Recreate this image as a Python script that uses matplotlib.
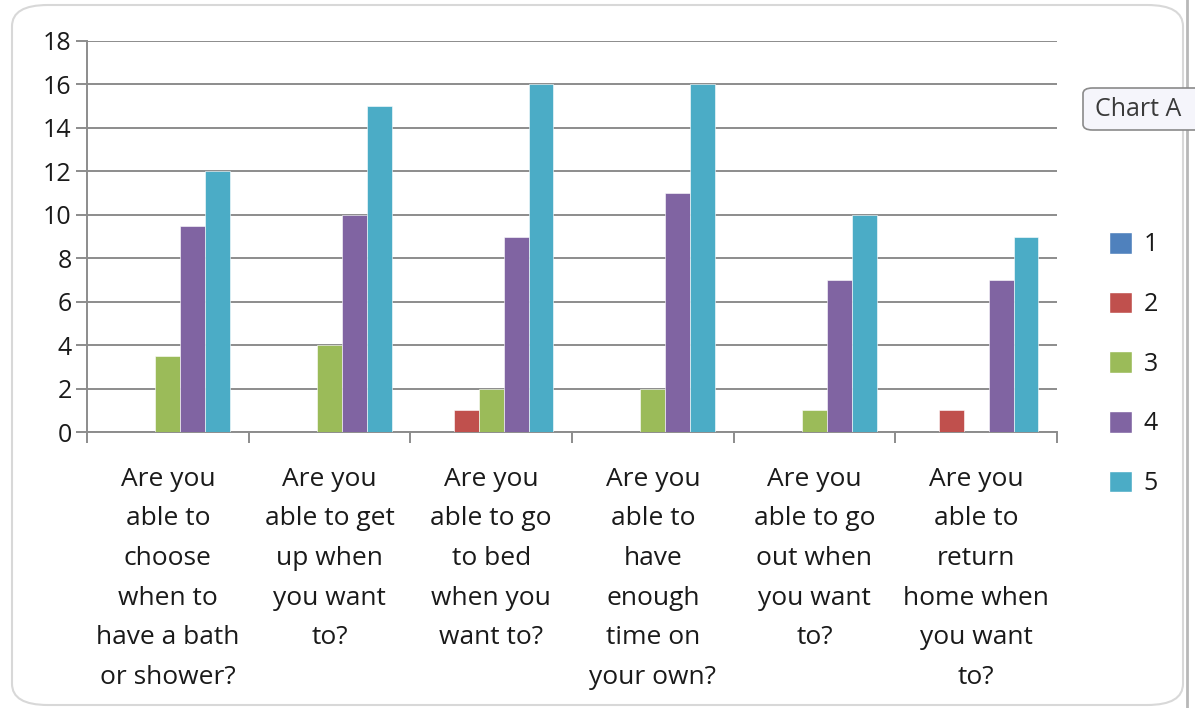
import matplotlib
matplotlib.use("Agg")
import matplotlib.pyplot as plt
import numpy as np
from matplotlib.patches import FancyBboxPatch, Patch
from matplotlib.lines import Line2D

categories = [
    "Are you\nable to\nchoose\nwhen to\nhave a bath\nor shower?",
    "Are you\nable to get\nup when\nyou want\nto?",
    "Are you\nable to go\nto bed\nwhen you\nwant to?",
    "Are you\nable to\nhave\nenough\ntime on\nyour own?",
    "Are you\nable to go\nout when\nyou want\nto?",
    "Are you\nable to\nreturn\nhome when\nyou want\nto?",
]
series_names = ["1", "2", "3", "4", "5"]
s1 = [0, 0, 0, 0, 0, 0]
s2 = [0, 0, 1, 0, 0, 1]
s3 = [3.5, 4, 2, 2, 1, 0]
s4 = [9.5, 10, 9, 11, 7, 7]
s5 = [12, 15, 16, 16, 10, 9]
yticks = [0, 2, 4, 6, 8, 10, 12, 14, 16, 18]
colors = ["#4F81BD", "#C0504D", "#9BBB59", "#8064A2", "#4BACC6"]

plt.rcParams['font.family'] = ['Open Sans', 'DejaVu Sans']
txt = '#1a1a1a'

fig = plt.figure(figsize=(11.95, 7.08), dpi=100)
ax = fig.add_axes([87/1195, 1-432/708, (1057-87)/1195, (432-41)/708])

x = np.arange(len(categories))
w = 0.154
all_series = [s1, s2, s3, s4, s5]
for j, (vals, c) in enumerate(zip(all_series, colors)):
    ax.bar(x + (j-2)*w, vals, width=w, color=c, edgecolor='white', linewidth=0.4, zorder=3)

ax.set_xlim(-0.5, len(categories)-0.5)
ax.set_ylim(0, 18)
ax.set_yticks(yticks)
ax.yaxis.grid(True, color='#8c8c8c', linewidth=1.4, zorder=0)
ax.tick_params(axis='y', length=8, width=1.4, color='#8c8c8c', labelsize=18, pad=3, labelcolor=txt)

ax.set_xticks(np.arange(-0.5, len(categories)), minor=False)
ax.set_xticklabels([])
ax.set_xticks(x, minor=True)
ax.set_xticklabels(categories, minor=True, fontsize=19, linespacing=1.77, color=txt, va='top', ha='center')
ax.tick_params(axis='x', which='major', length=8, width=1.4, color='#8c8c8c')
ax.tick_params(axis='x', which='minor', length=0, pad=25)

for s in ['top', 'right']:
    ax.spines[s].set_visible(False)
for s in ['left', 'bottom']:
    ax.spines[s].set_color('#8c8c8c')
    ax.spines[s].set_linewidth(1.4)

handles = [Patch(facecolor=c, edgecolor='white') for c in colors]
leg = fig.legend(handles, series_names, loc='center left', bbox_to_anchor=(1086/1195, 1-364/708),
                 frameon=False, fontsize=18, labelspacing=1.37, handlelength=0.95, handleheight=0.95,
                 handletextpad=0.45)
for t in leg.get_texts():
    t.set_color(txt)

# chart frame and surroundings
frame = FancyBboxPatch((12/1195, 3/708), (1183-12)/1195, 700/708,
                       boxstyle="round,pad=0,rounding_size=0.03", transform=fig.transFigure,
                       facecolor='none', edgecolor='#d8d8d8', linewidth=1.5, zorder=0)
fig.patches.append(frame)
fig.add_artist(Line2D([1187/1195, 1187/1195], [0, 1], transform=fig.transFigure, color='#b8b8b8', linewidth=2))

tip = FancyBboxPatch((1083/1195, 1-130/708), 130/1195, 42/708,
                     boxstyle="round,pad=0,rounding_size=0.008", transform=fig.transFigure,
                     facecolor='#f5f5fb', edgecolor='#8a8a8a', linewidth=1.2, zorder=5)
fig.patches.append(tip)
fig.text(1095/1195, 1-110/708, "Chart A", fontsize=18, color='#3a3a3a', va='center', ha='left', zorder=6)

fig.savefig("out.png", dpi=100)
